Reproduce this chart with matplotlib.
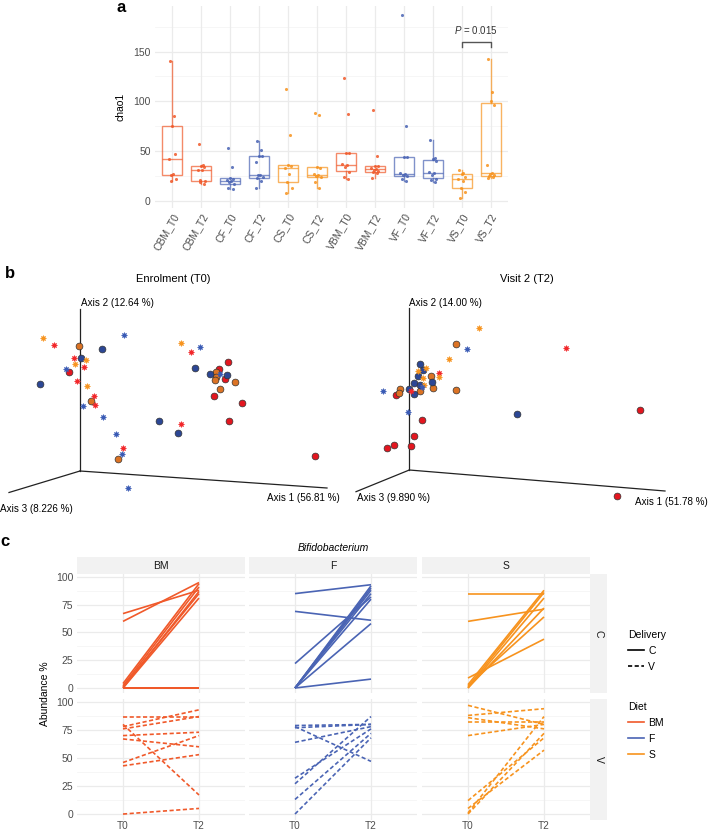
import matplotlib
matplotlib.use("Agg")
import matplotlib.pyplot as plt
from matplotlib.lines import Line2D
import numpy as np

plt.rcParams['font.family'] = ['Liberation Sans', 'DejaVu Sans']
plt.rcParams['mathtext.fontset'] = 'custom'
plt.rcParams['mathtext.it'] = 'Liberation Sans:italic'
plt.rcParams['mathtext.rm'] = 'Liberation Sans'

W, H, DPI = 710, 832, 100
fig = plt.figure(figsize=(W / DPI, H / DPI), dpi=DPI)

def px_axes(x0, y0, x1, y1):
    return fig.add_axes([x0 / W, 1 - y1 / H, (x1 - x0) / W, (y1 - y0) / H])

COL = {'BM': '#F0592A', 'F': '#4A64B4', 'S': '#F7931E'}
TXT = '#4D4D4D'
GRID = '#EBEBEB'
GRIDMIN = '#F5F5F5'

# ---------------- Panel a data ----------------
groups = ['CBM_T0', 'CBM_T2', 'CF_T0', 'CF_T2', 'CS_T0', 'CS_T2',
          'VBM_T0', 'VBM_T2', 'VF_T0', 'VF_T2', 'VS_T0', 'VS_T2']
group_diet = ['BM', 'BM', 'F', 'F', 'S', 'S', 'BM', 'BM', 'F', 'F', 'S', 'S']
CBM_T0 = [141, 85, 75, 47, 42, 27, 26, 22, 20]
CBM_T2 = [57, 36, 35, 34, 31, 31, 21, 20, 19, 17]
CF_T0 = [53, 34, 23, 22, 21, 20, 19, 17, 13, 12]
CF_T2 = [60, 51, 45, 45, 39, 26, 26, 24, 23, 20, 13]
CS_T0 = [112, 66, 36, 35, 33, 27, 19, 13, 8]
CS_T2 = [88, 86, 34, 33, 27, 26, 25, 24, 19, 13]
VBM_T0 = [123, 87, 48, 48, 37, 36, 34, 29, 24, 22]
VBM_T2 = [91, 45, 35, 35, 33, 32, 31, 30, 29, 28, 23]
VF_T0 = [187, 75, 44, 44, 28, 27, 26, 25, 22, 20]
VF_T2 = [61, 43, 42, 40, 29, 28, 26, 22, 21, 19]
VS_T0 = [31, 28, 27, 24, 22, 20, 13, 9, 3]
VS_T2 = [143, 109, 100, 96, 36, 28, 27, 26, 25, 24, 23]
chao1 = [CBM_T0, CBM_T2, CF_T0, CF_T2, CS_T0, CS_T2,
         VBM_T0, VBM_T2, VF_T0, VF_T2, VS_T0, VS_T2]
p_label = '0.015'
p_pair = (10, 11)
p_height = 160
jitter = [-0.08, 0.06, 0.0, 0.1, -0.12, 0.03, -0.03, 0.12, -0.06, 0.08, -0.1]

axa = px_axes(155, 5.7, 508, 207.5)
axa.set_xlim(-0.6, len(groups) - 0.4)
axa.set_ylim(-6.5, 196)
for v in [25, 75, 125, 175]:
    axa.axhline(v, color=GRIDMIN, lw=0.6, zorder=0)
for v in [0, 50, 100, 150]:
    axa.axhline(v, color=GRID, lw=0.9, zorder=0)
for i in range(len(groups)):
    axa.axvline(i, color=GRID, lw=0.9, zorder=0)
for i, (vals, d) in enumerate(zip(chao1, group_diet)):
    c = COL[d]
    bp = axa.boxplot([vals], positions=[i], widths=0.7, showfliers=False,
                     patch_artist=True, manage_ticks=False)
    for b in bp['boxes']:
        b.set(facecolor='none', edgecolor=c, alpha=0.7, lw=1.0)
    for k in ['whiskers', 'medians']:
        for l in bp[k]:
            l.set(color=c, alpha=0.7, lw=1.0)
    for l in bp['caps']:
        l.set_visible(False)
    xs = [i + jitter[j % len(jitter)] for j in range(len(vals))]
    axa.scatter(xs, vals, s=5, color=c, alpha=0.85, lw=0, zorder=3)
px0, px1 = p_pair
axa.plot([px0, px0, px1, px1], [p_height - 5, p_height, p_height, p_height - 5],
         color='#555555', lw=1.0)
axa.text((px0 + px1) / 2, p_height + 6, r'$\it{P}$ = ' + p_label, ha='center',
         va='bottom', fontsize=7, color='#333333')
axa.set_xticks(range(len(groups)))
axa.set_xticklabels(groups, rotation=60, ha='right', rotation_mode='anchor',
                    fontsize=7.5, color=TXT)
axa.set_yticks([0, 50, 100, 150])
axa.tick_params(axis='y', labelsize=7.5, labelcolor=TXT, length=0, pad=3)
axa.tick_params(axis='x', length=0, pad=3)
axa.set_ylabel('chao1', fontsize=7.5, labelpad=6)
for s in axa.spines.values():
    s.set_visible(False)
fig.text(121 / W, 1 - 8 / H, 'a', fontsize=12, fontweight='bold', ha='center', va='center')

# ---------------- Panel b data (projected PCoA coordinates) ----------------
# Enrolment (T0)
t0_star_red_x = [54, 73.7, 84, 77, 94, 95, 123, 180.7, 191.3]
t0_star_red_y = [345.3, 358, 367, 380.7, 396, 405.3, 447.7, 424.3, 351.7]
t0_star_org_x = [43, 86.3, 75.3, 87.3, 181.3]
t0_star_org_y = [338.3, 360, 363.7, 386, 343]
t0_star_blu_x = [123.7, 66.3, 83, 103, 116, 200, 220, 122.3, 128.3]
t0_star_blu_y = [334.7, 369, 406, 416.7, 434.3, 346.7, 374, 454, 488.3]
t0_circ_red_x = [68.7, 227.7, 219.3, 225, 213.7, 242, 229.3, 315.3]
t0_circ_red_y = [372.3, 361.7, 369, 378.7, 396, 403.3, 421, 455.7]
t0_circ_org_x = [79, 90.7, 216.3, 215.7, 215, 234.7, 220, 117.7]
t0_circ_org_y = [345.7, 401, 371.7, 376.7, 380.3, 382.3, 389, 458.7]
t0_circ_blu_x = [102, 80.7, 40.3, 195.3, 209.7, 227, 158.7, 178]
t0_circ_blu_y = [348.7, 357.7, 384.3, 368, 373.7, 375.3, 421, 432.7]
# Visit 2 (T2)
t2_star_red_x = [565.7, 439, 410.7]
t2_star_red_y = [347.7, 373, 390.7]
t2_star_org_x = [478.7, 448.7, 426, 418.3, 438.7, 423, 424.3]
t2_star_org_y = [327.7, 358.7, 368, 370.7, 377.3, 378, 385.3]
t2_star_blu_x = [467, 383, 407.7, 421.7]
t2_star_blu_y = [349, 391, 412, 386.7]
t2_circ_red_x = [396, 639.7, 422.3, 414, 393.7, 387, 411, 616.7]
t2_circ_red_y = [395.3, 409.7, 420.3, 436.3, 445, 448.3, 445.5, 496]
t2_circ_org_x = [455.7, 431, 400, 398.7, 419.7, 433, 456]
t2_circ_org_y = [344.3, 376, 388.7, 393.3, 391.3, 387.7, 390.3]
t2_circ_blu_x = [420, 422.7, 417.7, 432, 414, 420.3, 409, 414.3, 517]
t2_circ_blu_y = [364.3, 369.7, 376.3, 381.7, 382.7, 384.7, 388.7, 393.7, 414.3]

pcoa_titles = ['Enrolment (T0)', 'Visit 2 (T2)']
axis_labels = [['Axis 1 (56.81 %)', 'Axis 2 (12.64 %)', 'Axis 3 (8.226 %)'],
               ['Axis 1 (51.78 %)', 'Axis 2 (14.00 %)', 'Axis 3 (9.890 %)']]

STAR_C = {'red': '#F2272A', 'org': '#F7941F', 'blu': '#3A5BB5'}
CIRC_C = {'red': '#E3161F', 'org': '#DC7324', 'blu': '#2C4795'}

axb = px_axes(0, 285, W, 520)
axb.set_xlim(0, W)
axb.set_ylim(520, 285)
axb.axis('off')

frames = [
    dict(o=(80, 471), a1=(327, 488), a2=(80, 309), a3=(9, 492.5)),
    dict(o=(409.3, 470), a1=(665, 491), a2=(409.3, 308.3), a3=(356, 491.7)),
]
for f in frames:
    for key in ['a1', 'a2', 'a3']:
        axb.plot([f['o'][0], f[key][0]], [f['o'][1], f[key][1]], color='#222222',
                 lw=0.9, zorder=1)

AFS = 7.1
axb.text(80.7, 302.7, axis_labels[0][1], fontsize=AFS, ha='left', va='center')
axb.text(303, 498, axis_labels[0][0], fontsize=AFS, ha='center', va='center')
axb.text(0.5, 509, axis_labels[0][2], fontsize=AFS, ha='left', va='center')
axb.text(409.3, 302.7, axis_labels[1][1], fontsize=AFS, ha='left', va='center')
axb.text(708, 502, axis_labels[1][0], fontsize=AFS, ha='right', va='center')
axb.text(356.7, 498, axis_labels[1][2], fontsize=AFS, ha='left', va='center')

def draw_pts(sx, sy, kind, color_key):
    if kind == 'star':
        axb.plot(sx, sy, ls='none', marker=(8, 1, 0), ms=4.5,
                 color=STAR_C[color_key], mec=STAR_C[color_key], mew=0.3, zorder=3)
    else:
        axb.plot(sx, sy, ls='none', marker='o', ms=4.9,
                 mfc=CIRC_C[color_key], mec='#333333', mew=0.5, zorder=3)

draw_pts(t0_circ_red_x, t0_circ_red_y, 'circ', 'red')
draw_pts(t0_circ_org_x, t0_circ_org_y, 'circ', 'org')
draw_pts(t0_circ_blu_x, t0_circ_blu_y, 'circ', 'blu')
draw_pts(t0_star_red_x, t0_star_red_y, 'star', 'red')
draw_pts(t0_star_org_x, t0_star_org_y, 'star', 'org')
draw_pts(t0_star_blu_x, t0_star_blu_y, 'star', 'blu')
draw_pts(t2_circ_red_x, t2_circ_red_y, 'circ', 'red')
draw_pts(t2_circ_org_x, t2_circ_org_y, 'circ', 'org')
draw_pts(t2_circ_blu_x, t2_circ_blu_y, 'circ', 'blu')
draw_pts(t2_star_red_x, t2_star_red_y, 'star', 'red')
draw_pts(t2_star_org_x, t2_star_org_y, 'star', 'org')
draw_pts(t2_star_blu_x, t2_star_blu_y, 'star', 'blu')

fig.text(173 / W, 1 - 279 / H, pcoa_titles[0], fontsize=8, ha='center', va='center')
fig.text(527 / W, 1 - 279 / H, pcoa_titles[1], fontsize=8, ha='center', va='center')
fig.text(10 / W, 1 - 274 / H, 'b', fontsize=12, fontweight='bold', ha='center', va='center')

# ---------------- Panel c data ----------------
diets = ['BM', 'F', 'S']
deliveries = ['C', 'V']
timepoints = ['T0', 'T2']
BM_C_T0 = [67, 60, 4, 2, 0, 1, 0, 0, 0, 0]
BM_C_T2 = [88, 95, 94, 91, 87, 85, 81, 0, 0, 0]
F_C_T0 = [85, 69, 22, 0, 0, 0, 0, 0, 0, 0]
F_C_T2 = [93, 61, 82, 92, 90, 88, 85, 80, 58, 8]
S_C_T0 = [85, 60, 9, 3, 1, 0, 0, 2]
S_C_T2 = [85, 71, 44, 88, 86, 81, 72, 64]
BM_V_T0 = [87, 78, 80, 76, 70, 67, 46, 43, 0]
BM_V_T2 = [87, 93, 17, 87, 73, 60, 70, 53, 5]
F_V_T0 = [78, 79, 64, 32, 27, 13, 0, 77]
F_V_T2 = [47, 80, 78, 76, 87, 72, 68, 80]
S_V_T0 = [97, 88, 86, 82, 70, 12, 5, 1, 0]
S_V_T2 = [80, 94, 76, 82, 80, 68, 57, 87, 72]
abund = {('BM', 'C'): (BM_C_T0, BM_C_T2), ('F', 'C'): (F_C_T0, F_C_T2),
         ('S', 'C'): (S_C_T0, S_C_T2), ('BM', 'V'): (BM_V_T0, BM_V_T2),
         ('F', 'V'): (F_V_T0, F_V_T2), ('S', 'V'): (S_V_T0, S_V_T2)}
LS = {'C': '-', 'V': (0, (2.5, 1.5))}

col_x = [(77.4, 244.6), (249.4, 416.6), (422.4, 589.6)]
row_y = [(574.4, 693.4), (699.4, 819.5)]
STRIP = '#F2F2F2'

for ci, d in enumerate(diets):
    x0, x1 = col_x[ci]
    sax = px_axes(x0, 557, x1, 574.4)
    sax.set_facecolor(STRIP)
    sax.set_xticks([]); sax.set_yticks([])
    for s in sax.spines.values():
        s.set_visible(False)
    sax.text(0.5, 0.5, d, ha='center', va='center', fontsize=7.5, color='#1A1A1A',
             transform=sax.transAxes)
    for ri, dl in enumerate(deliveries):
        y0, y1 = row_y[ri]
        ax = px_axes(x0, y0, x1, y1)
        ax.set_xlim(0.4, 2.6)
        ax.set_ylim(-4.87, 102.3)
        for v in [12.5, 37.5, 62.5, 87.5]:
            ax.axhline(v, color=GRIDMIN, lw=0.6, zorder=0)
        for v in [0, 25, 50, 75, 100]:
            ax.axhline(v, color=GRID, lw=0.9, zorder=0)
        for v in [1, 2]:
            ax.axvline(v, color=GRID, lw=0.9, zorder=0)
        t0v, t2v = abund[(d, dl)]
        for a, b in zip(t0v, t2v):
            ax.plot([1, 2], [a, b], color=COL[d], ls=LS[dl], lw=1.2,
                    solid_capstyle='butt')
        for s in ax.spines.values():
            s.set_visible(False)
        ax.tick_params(axis='y', length=0, labelsize=7.5, labelcolor=TXT, pad=3)
        ax.tick_params(axis='x', length=0, labelsize=7.2, labelcolor=TXT, pad=1)
        ax.set_xticks([1, 2])
        if ri == 1:
            ax.set_xticklabels(timepoints)
        else:
            ax.set_xticklabels([])
        ax.set_yticks([0, 25, 50, 75, 100])
        if ci != 0:
            ax.set_yticklabels([])
        if ci == 2:
            rax = px_axes(590, y0, 607, y1)
            rax.set_facecolor(STRIP)
            rax.set_xticks([]); rax.set_yticks([])
            for s in rax.spines.values():
                s.set_visible(False)
            rax.text(0.5, 0.5, dl, ha='center', va='center', rotation=270,
                     fontsize=7.5, color='#1A1A1A', transform=rax.transAxes)

fig.text(45 / W, 1 - 694 / H, 'Abundance %', rotation=90, fontsize=7.5,
         ha='center', va='center')
fig.text(333.5 / W, 1 - 548 / H, 'Bifidobacterium', fontsize=7.5, style='italic',
         ha='center', va='center')
fig.text(5 / W, 1 - 542 / H, 'c', fontsize=12, fontweight='bold', ha='center', va='center')

h_del = [Line2D([], [], color='black', ls=LS[k], lw=1.2) for k in deliveries]
leg1 = fig.legend(h_del, deliveries, title='Delivery', loc='upper left',
                  bbox_to_anchor=(619 / W, 1 - 621 / H), frameon=False,
                  fontsize=7.5, title_fontsize=7.5, alignment='left',
                  handlelength=1.5, handletextpad=0.4, labelspacing=0.55)
h_diet = [Line2D([], [], color=COL[k], lw=1.2) for k in diets]
leg2 = fig.legend(h_diet, diets, title='Diet', loc='upper left',
                  bbox_to_anchor=(619 / W, 1 - 693 / H), frameon=False,
                  fontsize=7.5, title_fontsize=7.5, alignment='left',
                  handlelength=1.5, handletextpad=0.4, labelspacing=0.55)

fig.savefig('out.png', dpi=DPI)
